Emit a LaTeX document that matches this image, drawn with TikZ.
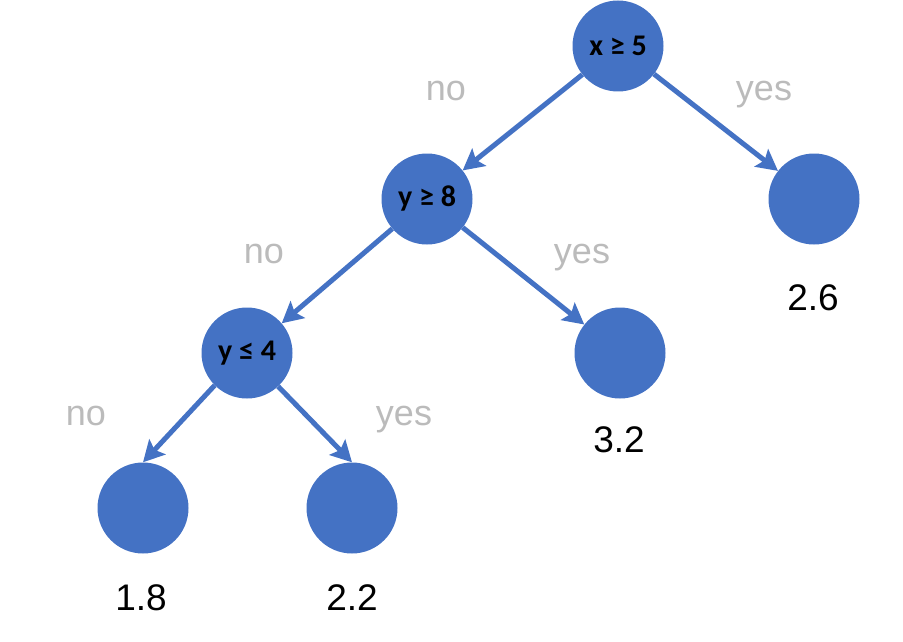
\documentclass[tikz,border=0pt]{standalone}
\usepackage{fontspec}
\setmainfont{Liberation Sans}
\newfontfamily\splitfont{Carlito}
\usetikzlibrary{arrows.meta}
\definecolor{nodeblue}{RGB}{68,114,196}
\definecolor{labelgray}{RGB}{187,187,187}

\begin{document}
\begin{tikzpicture}[x=1pt,y=-1pt,
    split/.style={circle,fill=nodeblue,minimum size=91pt,inner sep=0pt,
      font=\splitfont\bfseries\fontsize{30}{33}\selectfont},
    leaf/.style={circle,fill=nodeblue,minimum size=91pt,inner sep=0pt},
    answer/.style={anchor=base,text=labelgray,font=\fontsize{36}{40}\selectfont},
    value/.style={anchor=base,text=black,font=\fontsize{37}{40}\selectfont},
    edge/.style={-{Stealth[length=21pt,width=22pt,inset=4pt]},line width=5pt,draw=nodeblue}]

  \useasboundingbox (0,0) rectangle (903,642);

  %Circles
  \node [split] (xsplit) at (618,46) {x ≥ 5};
  \node [split] (ysplit) at (427,199) {y ≥ 8};
  \node [leaf] (leafa) at (814,199) {};
  \node [split] (ysplitb) at (247,353) {y ≤ 4};
  \node [leaf] (leafb) at (620,353) {};
  \node [leaf] (leafc) at (143,508) {};
  \node [leaf] (leafd) at (352,508) {};

  %Traits et fleches
  \draw [edge] (xsplit) -- (ysplit);
  \draw [edge] (xsplit) -- (leafa);
  \draw [edge] (ysplit) -- (ysplitb);
  \draw [edge] (ysplit) -- (leafb);
  \draw [edge] (ysplitb.225) -- (leafc.north);
  \draw [edge] (ysplitb.-47) -- (leafd.north);

  %Labels
  \node [answer] (noa) at (446,100) {no};
  \node [answer] (yesa) at (764,100) {yes};
  \node [answer] (nob) at (264,263) {no};
  \node [answer] (yesb) at (582,263) {yes};
  \node [answer] (noc) at (86,425) {no};
  \node [answer] (yesc) at (404,425) {yes};

  \node [value] (vala) at (813,310) {2.6};
  \node [value] (valb) at (619,452) {3.2};
  \node [value] (valc) at (141,610) {1.8};
  \node [value] (vald) at (352,610) {2.2};
\end{tikzpicture}
\end{document}
